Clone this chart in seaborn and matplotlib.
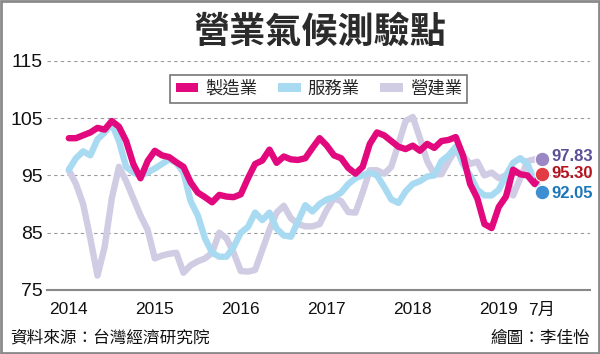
import numpy as np
import pandas as pd
import matplotlib
matplotlib.use("Agg")
import matplotlib.pyplot as plt
from matplotlib.patches import Patch, Rectangle
import seaborn as sns

## Data: monthly index values, 2014/01 .. 2019/07
months = list(range(67))

manufacturing = [101.5, 101.5, 102.0, 102.5, 103.3, 103.0, 104.5, 103.5, 101.0, 97.0, 94.5, 97.5,
                 99.3, 98.5, 98.2, 97.3, 96.5, 93.8, 92.0, 91.2, 90.3, 91.6, 91.3, 91.2,
                 91.7, 94.5, 97.0, 97.6, 99.5, 97.2, 98.3, 97.8, 97.7, 98.0, 99.8, 101.5,
                 100.2, 98.5, 98.0, 96.3, 95.3, 96.5, 100.5, 102.5, 102.0, 101.0, 100.0, 99.6,
                 100.2, 99.3, 100.5, 99.8, 101.0, 101.2, 101.7, 98.5, 93.5, 91.0, 86.5, 85.8,
                 89.5, 91.3, 96.0, 95.2, 95.0, 93.5, 95.30]

services = [96.0, 98.0, 99.2, 98.5, 101.3, 102.5, 104.0, 101.0, 96.5, 95.5, 95.0, 95.5,
            96.2, 97.0, 97.8, 97.2, 95.5, 90.5, 88.0, 84.0, 81.5, 80.8, 80.8, 82.5,
            85.0, 86.0, 88.5, 87.2, 88.5, 85.7, 84.5, 84.3, 87.0, 89.8, 88.7, 90.0,
            90.8, 91.2, 92.0, 93.5, 94.5, 95.0, 95.5, 95.0, 93.0, 90.8, 90.2, 92.2,
            93.5, 94.0, 94.8, 95.0, 97.5, 98.5, 100.0, 97.0, 95.0, 92.5, 91.5, 91.5,
            92.5, 95.0, 97.2, 98.0, 97.0, 94.0, 92.05]

construction = [95.9, 93.5, 90.0, 84.0, 77.5, 82.5, 91.0, 96.5, 94.0, 91.0, 88.0, 85.5,
                80.5, 81.0, 81.3, 81.5, 78.0, 79.3, 80.0, 80.5, 81.5, 85.0, 84.0, 81.5,
                78.3, 78.2, 78.5, 82.0, 85.5, 88.5, 89.7, 87.5, 86.5, 86.1, 86.1, 86.5,
                89.0, 91.0, 90.5, 88.6, 88.5, 92.0, 95.9, 95.9, 95.3, 96.5, 100.5, 104.5,
                105.2, 101.5, 97.5, 95.2, 95.2, 97.5, 99.5, 98.5, 97.0, 97.4, 95.0, 95.5,
                94.5, 95.0, 91.5, 94.5, 97.5, 97.8, 97.83]

series_names = ["製造業", "服務業", "營建業"]
line_colors = {"製造業": "#E2087D", "服務業": "#A8DBF2", "營建業": "#D0CCE3"}
end_values = [97.83, 95.30, 92.05]
end_dot_colors = ["#9A88C4", "#E23B44", "#3E8FD2"]
end_text_colors = ["#5B4F97", "#B5121D", "#1B76B8"]

tick_pos = [0, 12, 24, 36, 48, 60, 66]
tick_labels = ["2014", "2015", "2016", "2017", "2018", "2019", "7月"]
y_ticks = [75, 85, 95, 105, 115]

df = pd.DataFrame({
    "month": months * 3,
    "value": manufacturing + services + construction,
    "series": ["製造業"] * 67 + ["服務業"] * 67 + ["營建業"] * 67,
})

sns.set_style("white")
plt.rcParams["font.family"] = ["Liberation Sans", "Noto Sans CJK TC", "DejaVu Sans"]
cjk = ["Noto Sans CJK TC", "DejaVu Sans"]

fig = plt.figure(figsize=(6, 3.54), dpi=100)
ax = fig.add_axes([0.078, 0.181, 0.905, 0.647])

# draw order: construction at the back, manufacturing on top
sns.lineplot(data=df, x="month", y="value", hue="series",
             hue_order=["營建業", "服務業", "製造業"], palette=line_colors,
             linewidth=4.6, legend=False, ax=ax)
for line in ax.lines:
    line.set_solid_capstyle("round")
    line.set_solid_joinstyle("round")

ax.set_xlim(-3.07, 72.7)
ax.set_ylim(75, 115)
ax.set_xlabel("")
ax.set_ylabel("")
ax.set_yticks(y_ticks)
ax.set_yticklabels([str(v) for v in y_ticks], fontsize=14, color="#111111")
ax.set_xticks(tick_pos)
ax.set_xticklabels(tick_labels, fontsize=12.5, color="#111111")
for lbl in ax.get_xticklabels():
    lbl.set_family(["Liberation Sans", "Noto Sans CJK TC"])
ax.tick_params(axis="y", length=0, pad=3)
ax.tick_params(axis="x", length=6, width=1.2, color="#888888", pad=3, direction="out")
ax.yaxis.grid(True, linestyle=(0, (3, 3)), color="#9a9a9a", linewidth=0.8)
ax.xaxis.grid(False)
for side in ["top", "right", "left"]:
    ax.spines[side].set_visible(False)
ax.spines["bottom"].set_color("#888888")
ax.spines["bottom"].set_linewidth(1.5)
ax.set_axisbelow(True)

# end-of-series markers and values (labels spread a little so they do not collide)
label_y = [98.35, 95.30, 91.85]
for val, ly, dc, tc in zip(end_values, label_y, end_dot_colors, end_text_colors):
    ax.scatter([66], [val], s=110, color=dc, edgecolor="white", linewidth=0.8,
               zorder=5, clip_on=False)
    ax.text(67.3, ly, f"{val:.2f}", color=tc, fontsize=12, fontweight="bold",
            va="center", ha="left", clip_on=False, zorder=6)

# legend
handles = [Patch(facecolor=line_colors[n], edgecolor="none") for n in series_names]
leg = ax.legend(handles, series_names, loc="center", bbox_to_anchor=(0.501, 0.878),
                ncol=3, frameon=True, fancybox=False, handlelength=1.3, handleheight=0.45,
                handletextpad=0.4, columnspacing=1.2, borderpad=0.3,
                prop={"family": cjk, "size": 12.5})
leg.get_frame().set_edgecolor("#555555")
leg.get_frame().set_linewidth(1.2)

# title and footer texts
fig.text(0.533, 1 - 32 / 354, "營業氣候測驗點", ha="center", va="center",
         fontsize=26, fontweight="bold", family=cjk, color="#2b2b2b")
fig.text(0.017, 1 - 338 / 354, "資料來源：台灣經濟研究院", ha="left", va="center",
         fontsize=12, family=cjk, color="#111111")
fig.text(0.983, 1 - 338 / 354, "繪圖：李佳怡", ha="right", va="center",
         fontsize=12, family=cjk, color="#111111")

fig.patches.append(Rectangle((0.002, 0.003), 0.996, 0.994, transform=fig.transFigure,
                             fill=False, edgecolor="#8a8a8a", linewidth=2))

fig.savefig("out.png", dpi=100)
